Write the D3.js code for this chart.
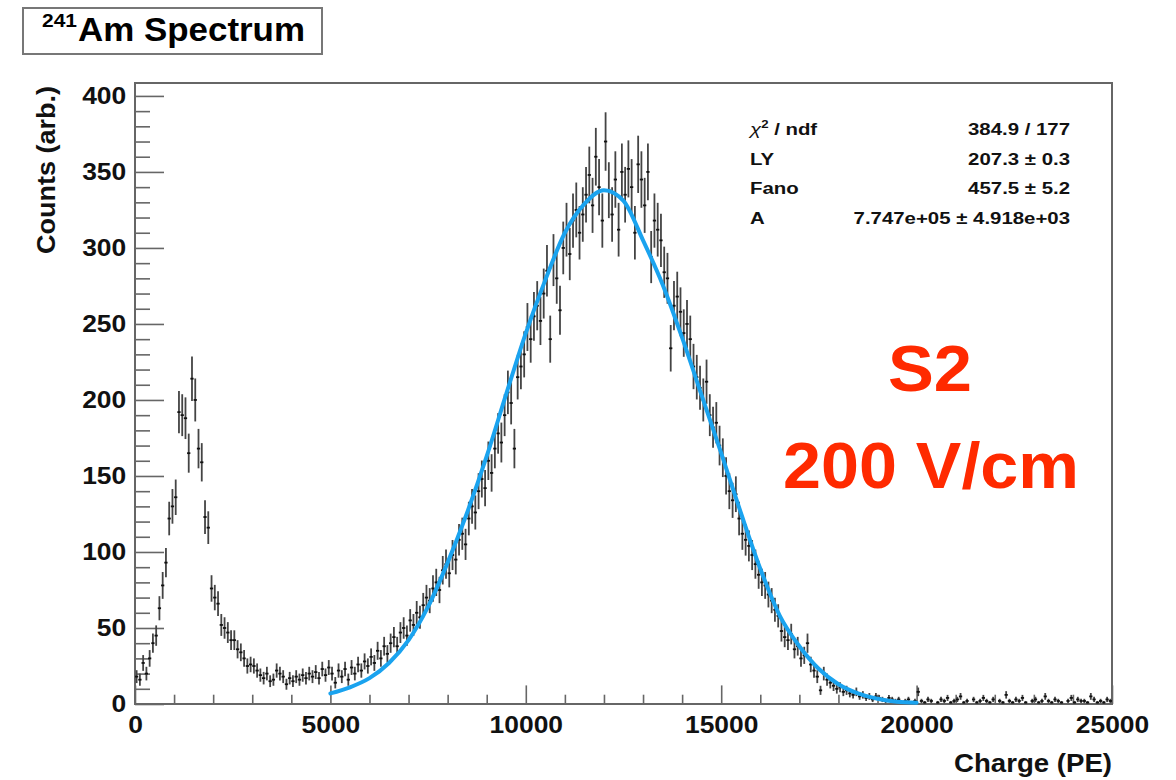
<!DOCTYPE html>
<html>
<head>
<meta charset="utf-8">
<script src="https://cdn.jsdelivr.net/npm/d3@7"></script>
<style>
  body { margin: 0; background: #fff; }
  svg { display: block; }
  text { font-family: "Liberation Sans", Arial, Helvetica, sans-serif; font-weight: bold; }
</style>
</head>
<body>
<div id="chart"></div>
<script>
// 241Am spectrum, S2 at 200 V/cm

// histogram contents, 300 bins from 0 to 25000 PE
const counts = [
  // 0 - 5000 PE
  18,16,27,20,30,40,45,63,78,93,
  122,130,136,192,190,188,165,214,200,168,
  159,123,116,76,70,66,52,50,47,42,
  42,36,34,30,25,26,25,22,19,17,
  20,15,16,22,20,18,13,17,15,18,
  16,19,17,20,18,21,17,23,19,24,
  // 5000 - 9500 PE
  20,14,22,18,23,16,24,20,26,22,
  28,25,31,27,35,30,38,33,40,44,
  38,47,50,45,55,52,60,57,65,70,
  68,76,80,75,88,92,86,98,95,108,
  112,105,122,130,126,140,148,142,160,152,
  168,178,172,190,
  // 9500 - 16700 PE
  205,198,168,215,222,230,
  248,240,255,262,252,270,285,240,292,280,
  259,300,312,296,318,325,310,322,335,348,
  328,360,340,318,370,338,322,345,312,350,
  335,352,340,310,355,345,328,350,294,318,
  312,305,284,280,234,262,268,258,244,250,
  240,222,215,208,200,212,190,182,185,170,
  162,150,140,134,138,122,112,108,104,98,
  92,85,80,78,72,68,62,58,48,44,
  // 16700 - 20100 PE
  42,46,36,38,30,32,40,26,22,18,
  9,20,16,14,12,10,11,8,9,7,
  6,8,5,6,4,5,3,5,4,3,
  2,4,3,2,3,1,2,3,1,2,
  8,
  // 20100 - 25000 PE
  2,1,3,2,0,1,3,2,4,1,
  2,3,5,1,2,0,3,1,2,4,
  2,1,3,0,2,1,6,2,1,3,
  2,4,1,0,2,3,1,2,5,2,
  1,3,2,1,0,2,4,1,3,2,
  2,1,5,3,1,2,1,3,2
];

// fit curve
const fitCharge = [5000,5500,6000,6500,7000,7500,8000,8500,9000,9500,10000,
  10500,11000,11500,12000,12500,13000,13500,14000,14500,15000,
  15500,16000,16500,17000,17500,18000,18500,19000,19500,20000];
const fitCounts = [7,11,17,27,42,64,93,126,163,204,244,
  279,310,329,338,331,305,276,241,203,165,
  126,89,58,38,23,13,7,3.5,1.5,0.8];

const xMajor = [0,5000,10000,15000,20000,25000];
const yMajor = [0,50,100,150,200,250,300,350,400];

const statLabels = ["χ²", "LY", "Fano", "A"];
const statValues = ["384.9 / 177", "207.3  ± 0.3", "457.5  ± 5.2", "7.747e+05 ± 4.918e+03"];

const width = 1176, height = 780;
const frame = {left: 135, right: 1112, top: 83, bottom: 704};
const sx = 1.1; // glyphs are a bit wide in the original

const svg = d3.select("#chart").append("svg")
  .attr("width", width)
  .attr("height", height);

const x = d3.scaleLinear().domain([0, 25000]).range([frame.left, frame.right]);
const y = d3.scaleLinear().domain([0, 408.5]).range([frame.bottom, frame.top]);

// title box
svg.append("rect")
  .attr("x", 23).attr("y", 8).attr("width", 299).attr("height", 46)
  .attr("fill", "#fff").attr("stroke", "#777").attr("stroke-width", 2);
svg.append("text").attr("x", 42).attr("y", 27)
  .attr("font-size", 19).attr("textLength", 35).attr("lengthAdjust", "spacingAndGlyphs")
  .text("241");
svg.append("text").attr("x", 78).attr("y", 41)
  .attr("font-size", 34).attr("textLength", 227).attr("lengthAdjust", "spacingAndGlyphs")
  .text("Am Spectrum");

// minor ticks
const xMinor = d3.range(0, 25001, 1000).filter(v => v % 5000 !== 0);
const yMinor = d3.range(0, 408, 10).filter(v => v % 50 !== 0);

svg.append("g")
  .attr("transform", `translate(0,${frame.bottom})`)
  .call(d3.axisBottom(x).tickValues(xMinor).tickSize(-9.3).tickFormat(""))
  .call(g => g.select(".domain").remove())
  .selectAll("line").attr("stroke", "#666").attr("stroke-width", 1.6);

svg.append("g")
  .attr("transform", `translate(${frame.left},0)`)
  .call(d3.axisLeft(y).tickValues(yMinor).tickSize(-15).tickFormat(""))
  .call(g => g.select(".domain").remove())
  .selectAll("line").attr("stroke", "#666").attr("stroke-width", 1.6);

// major ticks + labels
const gx = svg.append("g")
  .attr("transform", `translate(0,${frame.bottom})`)
  .call(d3.axisBottom(x).tickValues(xMajor).tickSize(-18.6).tickPadding(12).tickFormat(d3.format("d")))
  .call(g => g.select(".domain").remove())
  .attr("font-size", 24);
gx.selectAll("line").attr("stroke", "#666").attr("stroke-width", 1.6);
gx.selectAll("text").attr("fill", "#111").attr("transform", `scale(${sx},1)`);

const gy = svg.append("g")
  .attr("transform", `translate(${frame.left},0)`)
  .call(d3.axisLeft(y).tickValues(yMajor).tickSize(-29).tickPadding(8).tickFormat(d3.format("d")))
  .call(g => g.select(".domain").remove())
  .attr("font-size", 24);
gy.selectAll("line").attr("stroke", "#666").attr("stroke-width", 1.6);
gy.selectAll("text").attr("fill", "#111").attr("transform", `scale(${sx},1)`);

// frame
svg.append("rect")
  .attr("x", frame.left).attr("y", frame.top)
  .attr("width", frame.right - frame.left).attr("height", frame.bottom - frame.top)
  .attr("fill", "none").attr("stroke", "#666").attr("stroke-width", 2);

// axis titles
svg.append("text")
  .attr("x", frame.right).attr("y", 772)
  .attr("text-anchor", "end").attr("font-size", 25).attr("fill", "#111")
  .attr("textLength", 158).attr("lengthAdjust", "spacingAndGlyphs")
  .text("Charge (PE)");
svg.append("text")
  .attr("transform", `translate(55,86) rotate(-90)`)
  .attr("text-anchor", "end").attr("font-size", 25).attr("fill", "#111")
  .attr("textLength", 168).attr("lengthAdjust", "spacingAndGlyphs")
  .text("Counts (arb.)");

// histogram with error bars
const binWidth = 25000 / counts.length;
const bins = counts.map((c, i) => ({lo: i * binWidth, hi: (i + 1) * binWidth, c: c}))
  .filter(d => d.c > 0);

const hist = svg.append("g").attr("stroke", "#444").attr("stroke-width", 1.8);
hist.selectAll(".err")
  .data(bins)
  .enter()
  .append("line")
    .attr("class", "err")
    .attr("x1", d => x((d.lo + d.hi) / 2))
    .attr("x2", d => x((d.lo + d.hi) / 2))
    .attr("y1", d => y(Math.max(0, d.c - Math.sqrt(d.c))))
    .attr("y2", d => y(d.c + Math.sqrt(d.c)));
hist.selectAll(".bin")
  .data(bins)
  .enter()
  .append("line")
    .attr("class", "bin")
    .attr("x1", d => x(d.lo))
    .attr("x2", d => x(d.hi))
    .attr("y1", d => y(d.c))
    .attr("y2", d => y(d.c))
    .attr("stroke", "#111");

// fit
const fit = fitCharge.map((c, i) => [c, fitCounts[i]]);
svg.append("path")
  .datum(fit)
  .attr("fill", "none")
  .attr("stroke", "#1aa3ef")
  .attr("stroke-width", 4)
  .attr("stroke-linecap", "round")
  .attr("d", d3.line().x(d => x(d[0])).y(d => y(d[1])).curve(d3.curveMonotoneX));

// stats box
const rowY = [135, 165, 194, 224];
const sStat = 1.2;
statLabels.forEach((lab, i) => {
  const t = svg.append("text")
    .attr("transform", `translate(750,${rowY[i]}) scale(${sStat},1)`)
    .attr("font-size", 17).attr("fill", "#111");
  if (i === 0) {
    t.append("tspan").attr("font-style", "italic").attr("font-weight", "normal").text("χ");
    t.append("tspan").attr("font-size", 11).attr("dy", -7).text("2");
    t.append("tspan").attr("dy", 7).text(" / ndf");
  } else {
    t.text(lab);
  }
  svg.append("text")
    .attr("transform", `translate(1070,${rowY[i]}) scale(${sStat},1)`)
    .attr("text-anchor", "end").attr("font-size", 17).attr("fill", "#111")
    .text(statValues[i]);
});

// red annotation
svg.append("text")
  .attr("x", 930).attr("y", 391)
  .attr("text-anchor", "middle").attr("font-size", 64).attr("fill", "#ff2a00")
  .attr("textLength", 84).attr("lengthAdjust", "spacingAndGlyphs")
  .text("S2");
svg.append("text")
  .attr("x", 931).attr("y", 488)
  .attr("text-anchor", "middle").attr("font-size", 64).attr("fill", "#ff2a00")
  .attr("textLength", 296).attr("lengthAdjust", "spacingAndGlyphs")
  .text("200 V/cm");
</script>
</body>
</html>
